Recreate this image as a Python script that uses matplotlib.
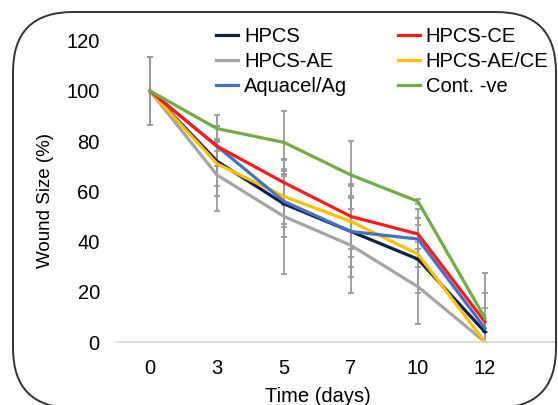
import matplotlib
matplotlib.use("Agg")
import matplotlib.pyplot as plt
from matplotlib.patches import FancyBboxPatch
from matplotlib.transforms import IdentityTransform

plt.rcParams['font.family'] = ['Liberation Sans', 'DejaVu Sans']

days = ['0', '3', '5', '7', '10', '12']

hpcs = [100, 72, 55, 44, 33, 4]
hpcs_ce = [100, 78, 63.5, 50, 43, 8]
hpcs_ae = [100, 66.5, 50, 38.5, 22, 0]
hpcs_aece = [100, 71, 58, 48, 35, 0]
aquacel = [100, 78, 56, 44, 41, 5.5]
cont = [100, 85, 79.5, 66.5, 56, 9.5]

err_hpcs = [13.5, 14, 13, 18, 13.5, 0]
err_hpcs_ce = [13.5, 2, 9, 13, 10, 11.5]
err_hpcs_ae = [13.5, 14.5, 23, 19, 15, 0]
err_hpcs_aece = [13.5, 9, 11, 14, 5, 0]
err_aquacel = [13.5, 8, 10, 14, 8.5, 8]
err_cont = [13.5, 5.5, 12.5, 13.5, 1, 18]

W, H = 558, 405
fig = plt.figure(figsize=(W / 100, H / 100), dpi=100)
ax = fig.add_axes([116.5 / W, 1 - 342 / H, 1 - 116.5 / W, (342 - 40.7) / H])

x = list(range(len(days)))
series = [
    ('HPCS', hpcs, err_hpcs, '#0f1f4a'),
    ('HPCS-AE', hpcs_ae, err_hpcs_ae, '#a5a5a5'),
    ('HPCS-AE/CE', hpcs_aece, err_hpcs_aece, '#ffc000'),
    ('Aquacel/Ag', aquacel, err_aquacel, '#4472c4'),
    ('HPCS-CE', hpcs_ce, err_hpcs_ce, '#ff1a1a'),
    ('Cont. -ve', cont, err_cont, '#70ad47'),
]

handles = {}
for name, vals, err, col in series:
    ax.errorbar(x, vals, yerr=err, fmt='none', ecolor='#9a9a9a',
                elinewidth=1.3, capsize=2.5, capthick=1.3, zorder=1)
for name, vals, err, col in series:
    ln, = ax.plot(x, vals, color=col, lw=2.3, label=name, zorder=2,
                  solid_joinstyle='round')
    handles[name] = ln

ax.set_xlim(-0.5, 6.09)
ax.set_ylim(0, 120)
ax.set_xticks(x)
ax.set_xticklabels(days)
ax.set_yticks([0, 20, 40, 60, 80, 100, 120])
ax.tick_params(length=0, labelsize=14.5, colors='black')
ax.tick_params(axis='y', pad=12)
ax.tick_params(axis='x', pad=12)
for s in ['top', 'right', 'left']:
    ax.spines[s].set_visible(False)
ax.spines['bottom'].set_color('#d9d9d9')
ax.spines['bottom'].set_linewidth(1.2)
ax.patch.set_alpha(0)

fig.text(45 / W, 1 - 201 / H, 'Wound Size (%)', rotation=90,
         ha='center', va='center', fontsize=13.5)
fig.text(318 / W, 1 - 396 / H, 'Time (days)', ha='center', va='center',
         fontsize=14.5)

order = ['HPCS', 'HPCS-AE', 'Aquacel/Ag', 'HPCS-CE', 'HPCS-AE/CE', 'Cont. -ve']
fig.legend([handles[n] for n in order], order, ncol=2, frameon=False,
           loc='upper left', bbox_to_anchor=(216 / W, 1 - 27 / H),
           borderpad=0, borderaxespad=0, fontsize=14.5, handlelength=1.1,
           handletextpad=0.3, columnspacing=2.5, labelspacing=0.3)

box = FancyBboxPatch((13, H - 408), 543, 396,
                     boxstyle='round,pad=0,rounding_size=60',
                     transform=IdentityTransform(), fill=False,
                     edgecolor='#333333', lw=1.4, clip_on=False)
fig.patches.append(box)

fig.savefig('out.png', dpi=100)
